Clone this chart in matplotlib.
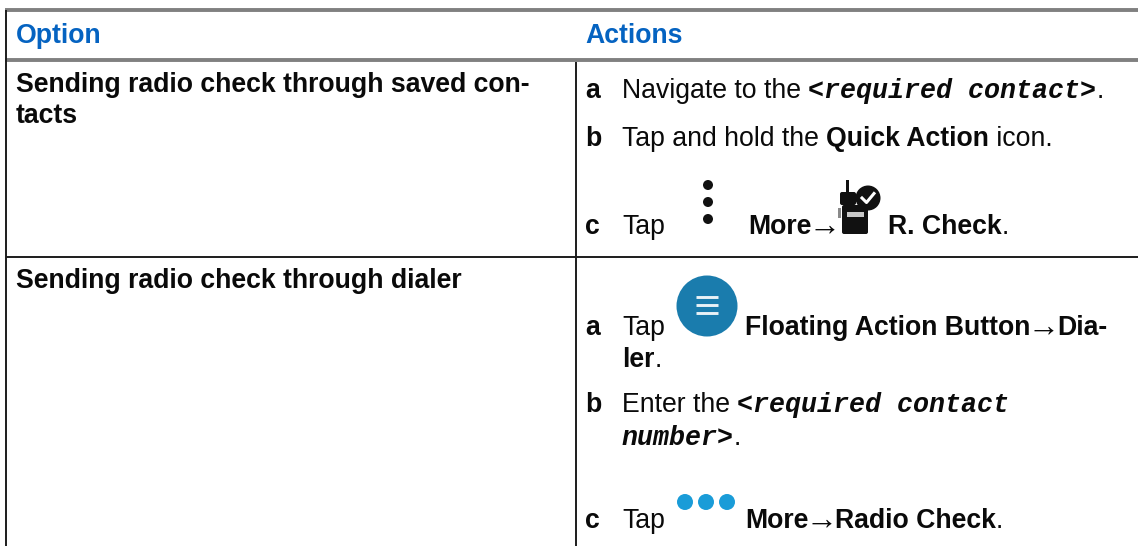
import matplotlib
matplotlib.use("Agg")
import matplotlib.pyplot as plt
from matplotlib.patches import Circle, Rectangle, FancyBboxPatch

plt.rcParams['font.family'] = ['Liberation Sans', 'DejaVu Sans']

headers = ["Option", "Actions"]
options = ["Sending radio check through saved con-\ntacts", "Sending radio check through dialer"]

W, H = 1138, 546
fig = plt.figure(figsize=(W/100, H/100), dpi=100)
ax = fig.add_axes([0, 0, 1, 1])
ax.set_xlim(0, W); ax.set_ylim(H, 0); ax.axis('off')

FS = 19.2
BLUE = "#0563c1"
LX, TX = 585, 622


def seg(x, y, parts):
    """Draw consecutive text runs on one baseline."""
    r = fig.canvas.get_renderer()
    for s, st in parts:
        kw = dict(fontsize=FS, color='#0a0a0a', va='baseline', ha='left')
        if st == 'b':
            kw['fontweight'] = 'bold'
        if st == 'm':
            kw.update(fontweight='bold', style='italic', family='Liberation Mono')
        if st == 'a':
            # thin long arrow: enlarged glyph kept inside its normal advance
            adv = FS * 100 / 72
            kw.update(family='Liberation Serif', fontsize=FS * 1.2, ha='center')
            ax.text(x + adv / 2, y + 1, s, **kw)
            x += adv
            continue
        t = ax.text(x, y, s, **kw)
        t.set_text(s + '|')
        w1 = t.get_window_extent(r).width
        t.set_text('|')
        w2 = t.get_window_extent(r).width
        t.set_text(s)
        x += w1 - w2
    return x


# rules
ax.plot([5, W], [10, 10], color='#808080', lw=2.8, solid_capstyle='butt')
ax.plot([5, W], [60, 60], color='#808080', lw=2.8, solid_capstyle='butt')
ax.plot([6, W], [257, 257], color='#1c1c1c', lw=1.4, solid_capstyle='butt')
ax.plot([6.5, 6.5], [10, H], color='#1c1c1c', lw=1.4, solid_capstyle='butt')
ax.plot([576, 576], [62, H], color='#1c1c1c', lw=1.4, solid_capstyle='butt')

# headers
seg(16, 43, [(headers[0], 'h')])
ax.texts[-1].set_color(BLUE); ax.texts[-1].set_fontweight('bold')
seg(LX, 43, [(headers[1], 'h')])
ax.texts[-1].set_color(BLUE); ax.texts[-1].set_fontweight('bold')

# option column
line1, line2 = options[0].split("\n")
seg(16, 92, [(line1, 'b')])
seg(16, 123, [(line2, 'b')])
seg(16, 288, [(options[1], 'b')])

# actions, first row
seg(LX, 98, [("a", 'b')])
seg(TX, 98, [("Navigate to the ", 'r'), ("<required contact>", 'm'), (".", 'r')])
seg(LX, 146, [("b", 'b')])
seg(TX, 146, [("Tap and hold the ", 'r'), ("Quick Action", 'b'), (" icon.", 'r')])
seg(LX, 234, [("c", 'b')])
seg(TX, 234, [("Tap", 'r')])
seg(748, 234, [("More", 'b'), ("→", 'a')])
seg(888, 234, [("R. Check", 'b'), (".", 'r')])

# actions, second row
seg(LX, 335, [("a", 'b')])
seg(TX, 335, [("Tap", 'r')])
seg(745, 335, [("Floating Action Button", 'b'), ("→", 'a'), ("Dia-", 'b')])
seg(TX, 367, [("ler", 'b'), (".", 'r')])
seg(LX, 412, [("b", 'b')])
seg(TX, 412, [("Enter the ", 'r'), ("<required contact", 'm')])
seg(TX, 445, [("number>", 'm'), (".", 'r')])
seg(LX, 528, [("c", 'b')])
seg(TX, 528, [("Tap", 'r')])
seg(745, 528, [("More", 'b'), ("→", 'a'), ("Radio Check", 'b'), (".", 'r')])

# vertical three dots
for cy in (185, 202, 219):
    ax.add_patch(Circle((708, cy), 5, color='#111111', lw=0))

# radio icon
ax.add_patch(Rectangle((846.5, 180), 3, 24, color='#111111', lw=0))
ax.add_patch(FancyBboxPatch((842, 194), 12, 9, boxstyle="round,pad=2", color='#111111', lw=0))
ax.add_patch(FancyBboxPatch((844, 207), 22, 25, boxstyle="round,pad=2", color='#111111', lw=0))
ax.add_patch(Rectangle((847, 212), 17, 5, color='#c8c8c8', lw=0))
ax.add_patch(Rectangle((838, 208), 3, 10, color='#8a8a8a', lw=0))
ax.add_patch(Circle((868, 198), 12.5, color='#111111', lw=0))
ax.plot([862, 866.5, 874], [198, 202.5, 193.5], color='white', lw=2.2)

# floating action button
ax.add_patch(Circle((707, 306), 30.5, color='#1a7cad', lw=0))
for yy in (297, 305, 313):
    ax.plot([696, 718], [yy, yy], color='#e8f2f7', lw=2.1, solid_capstyle='butt')

# blue dots
for cx in (685, 706, 727):
    ax.add_patch(Circle((cx, 502), 8, color='#1a9cd8', lw=0))

fig.savefig("out.png", dpi=100)
